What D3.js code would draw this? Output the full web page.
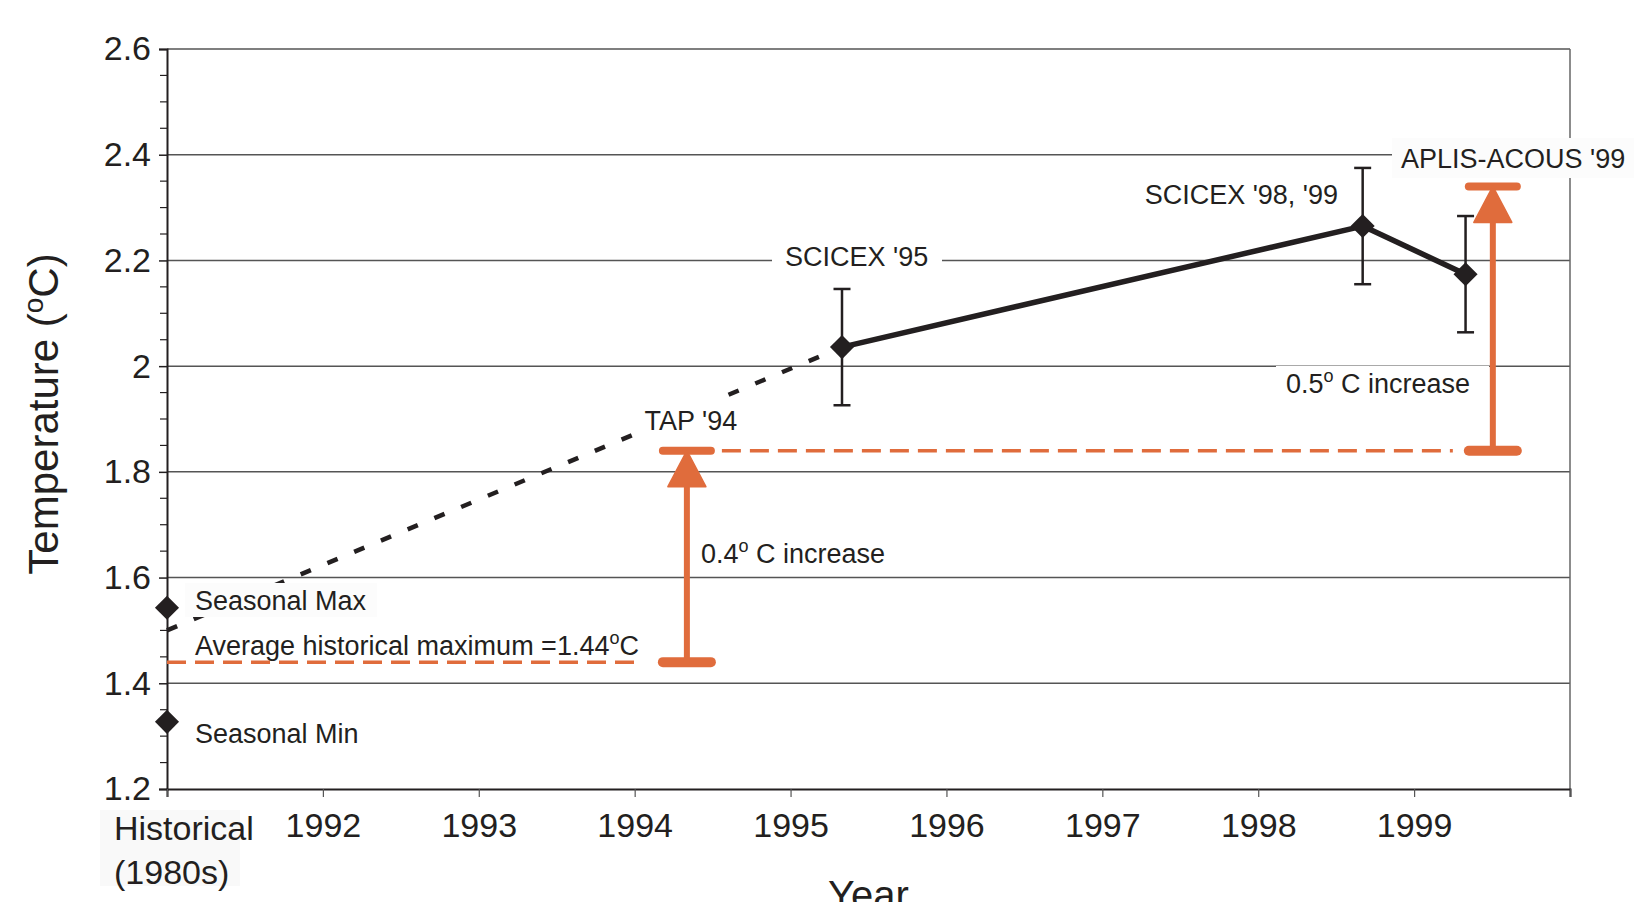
<!DOCTYPE html>
<html>
<head>
<meta charset="utf-8">
<script src="https://cdn.jsdelivr.net/npm/d3@7"></script>
<style>
  body { margin: 0; background: #fff; }
  text { font-family: "Liberation Sans", Arial, sans-serif; fill: #231f20; }
</style>
</head>
<body>
<script>
// historical (1980s) seasonal range, plotted at the "Historical" slot
const histLabels = ["Seasonal Max", "Seasonal Min"];
const histValues = [1.543, 1.327];
const histYear = 1991;

// survey means with error bars
const surveyNames = ["SCICEX '95", "SCICEX '98, '99", "APLIS-ACOUS '99"];
const surveyYears = [1995.33, 1998.67, 1999.33];
const surveyMeans = [2.036, 2.265, 2.174];
const surveyErr = [0.11, 0.11, 0.11];

// dashed trend from the historical period to the first SCICEX point
const trendStart = [1991, 1.50];

// increase markers
const histMax = 1.44;
const incYears = [1994.335, 1999.505];
const incFrom = [1.44, 1.84];
const incTo = [1.84, 2.34];
const incLabels = ["0.4", "0.5"];

const yTicks = [1.2, 1.4, 1.6, 1.8, 2, 2.2, 2.4, 2.6];
const xTicks = [1991, 1992, 1993, 1994, 1995, 1996, 1997, 1998, 1999, 2000];
const xTickLabels = ["", "1992", "1993", "1994", "1995", "1996", "1997", "1998", "1999", ""];

const width = 1634, height = 902;
const ink = "#231f20", orange = "#e06c3c";

const svg = d3.select("body").append("svg")
  .attr("width", width)
  .attr("height", height);

const x = d3.scaleLinear().domain([1991, 2000]).range([167, 1570]);
const y = d3.scaleLinear().domain([1.2, 2.6]).range([789, 49]);

// grid
svg.append("g")
  .selectAll("line")
  .data(yTicks.slice(1))
  .enter().append("line")
  .attr("x1", x(1991)).attr("x2", x(2000))
  .attr("y1", d => y(d)).attr("y2", d => y(d))
  .style("stroke", "#555")
  .style("stroke-width", 1.5);

// right border
svg.append("line")
  .attr("x1", x(2000)).attr("x2", x(2000))
  .attr("y1", y(2.6)).attr("y2", y(1.2))
  .style("stroke", "#666").style("stroke-width", 1.5);

// y axis
const yAxis = svg.append("g")
  .attr("transform", `translate(${x(1991)},0)`)
  .call(d3.axisLeft(y).tickValues(yTicks).tickSize(8).tickPadding(8)
    .tickFormat(d => d3.format("")(+d.toFixed(1))));
yAxis.select(".domain").style("stroke", ink).style("stroke-width", 2);
yAxis.selectAll(".tick line").style("stroke", ink).style("stroke-width", 1.5);
yAxis.selectAll("text").style("font-size", "34px").attr("fill", ink)
  .style("font-family", '"Liberation Sans", Arial, sans-serif');

// minor ticks every 0.05
const minor = d3.range(1.25, 2.6, 0.05).filter(v => Math.abs(v * 5 - Math.round(v * 5)) > 0.01);
svg.append("g")
  .selectAll("line")
  .data(minor)
  .enter().append("line")
  .attr("x1", x(1991) - 7).attr("x2", x(1991))
  .attr("y1", d => y(d)).attr("y2", d => y(d))
  .style("stroke", ink).style("stroke-width", 1.2);

// x axis
const xAxis = svg.append("g")
  .attr("transform", `translate(0,${y(1.2)})`)
  .call(d3.axisBottom(x).tickValues(xTicks).tickSize(8).tickPadding(16)
    .tickFormat((d, i) => xTickLabels[i]));
xAxis.select(".domain").style("stroke", ink).style("stroke-width", 2);
xAxis.selectAll(".tick line").style("stroke", "#555").style("stroke-width", 1.2);
xAxis.selectAll("text").style("font-size", "34px").attr("fill", ink)
  .style("font-family", '"Liberation Sans", Arial, sans-serif');

// dashed trend line
svg.append("line")
  .attr("x1", x(trendStart[0])).attr("y1", y(trendStart[1]))
  .attr("x2", x(surveyYears[0])).attr("y2", y(surveyMeans[0]))
  .style("stroke", ink)
  .style("stroke-width", 4.5)
  .style("stroke-dasharray", "11,18");

// label background boxes (they hide the grid / trend behind them)
const boxes = [
  { x: 100, y: 810, w: 140, h: 76, fill: "#f9f9f9" },
  { x: 185, y: 583, w: 192, h: 34, fill: "#fcfcfc" },
  { x: 637, y: 398, w: 111, h: 46, fill: "#fff" },
  { x: 772, y: 230, w: 170, h: 42, fill: "#fff" },
  { x: 1392, y: 138, w: 242, h: 40, fill: "#fcfcfc" },
  { x: 1276, y: 366, w: 213, h: 38, fill: "#fff" }
];
svg.append("g")
  .selectAll("rect")
  .data(boxes)
  .enter().append("rect")
  .attr("x", d => d.x).attr("y", d => d.y)
  .attr("width", d => d.w).attr("height", d => d.h)
  .attr("fill", d => d.fill);

// orange dashed reference lines
svg.append("line")
  .attr("x1", x(1991)).attr("x2", x(incYears[0]) - 48)
  .attr("y1", y(histMax)).attr("y2", y(histMax))
  .style("stroke", orange).style("stroke-width", 3.5)
  .style("stroke-dasharray", "19,9");
svg.append("line")
  .attr("x1", x(incYears[0]) + 35).attr("x2", x(incYears[1]) - 40)
  .attr("y1", y(incTo[0])).attr("y2", y(incTo[0]))
  .style("stroke", orange).style("stroke-width", 3.5)
  .style("stroke-dasharray", "19,9");

// increase arrows
const inc = incYears.map((yr, i) => ({ yr, from: incFrom[i], to: incTo[i] }));
const arrows = svg.append("g").selectAll("g").data(inc).enter().append("g");
arrows.append("line")
  .attr("x1", d => x(d.yr) - 24).attr("x2", d => x(d.yr) + 24)
  .attr("y1", d => y(d.from)).attr("y2", d => y(d.from))
  .style("stroke", orange).style("stroke-width", 10).style("stroke-linecap", "round");
arrows.append("line")
  .attr("x1", d => x(d.yr) - 24).attr("x2", d => x(d.yr) + 24)
  .attr("y1", d => y(d.to)).attr("y2", d => y(d.to))
  .style("stroke", orange).style("stroke-width", 8).style("stroke-linecap", "round");
arrows.append("line")
  .attr("x1", d => x(d.yr)).attr("x2", d => x(d.yr))
  .attr("y1", d => y(d.from)).attr("y2", d => y(d.to) + 30)
  .style("stroke", orange).style("stroke-width", 6);
arrows.append("path")
  .attr("d", d => {
    const cx = x(d.yr), ty = y(d.to);
    return `M${cx},${ty} L${cx + 19},${ty + 36} L${cx - 19},${ty + 36} Z`;
  })
  .attr("fill", orange)
  .attr("stroke", orange)
  .attr("stroke-linejoin", "round")
  .attr("stroke-width", 1.5);

// survey line
const pts = surveyYears.map((yr, i) => [yr, surveyMeans[i], surveyErr[i]]);
svg.append("path")
  .datum(pts)
  .attr("d", d3.line().x(d => x(d[0])).y(d => y(d[1])))
  .style("fill", "none")
  .style("stroke", ink)
  .style("stroke-width", 5.5)
  .style("stroke-linejoin", "round");

// error bars
const eb = svg.append("g").selectAll("g").data(pts).enter().append("g")
  .style("stroke", ink).style("stroke-width", 2.5);
eb.append("line")
  .attr("x1", d => x(d[0])).attr("x2", d => x(d[0]))
  .attr("y1", d => y(d[1] + d[2])).attr("y2", d => y(d[1] - d[2]));
eb.append("line")
  .attr("x1", d => x(d[0]) - 8.5).attr("x2", d => x(d[0]) + 8.5)
  .attr("y1", d => y(d[1] + d[2])).attr("y2", d => y(d[1] + d[2]));
eb.append("line")
  .attr("x1", d => x(d[0]) - 8.5).attr("x2", d => x(d[0]) + 8.5)
  .attr("y1", d => y(d[1] - d[2])).attr("y2", d => y(d[1] - d[2]));

// diamonds
const diamond = d3.symbol(d3.symbolSquare, 290);
const allPts = pts.map(d => [d[0], d[1]]).concat(histValues.map(v => [histYear, v]));
svg.append("g")
  .selectAll("path")
  .data(allPts)
  .enter().append("path")
  .attr("d", diamond)
  .attr("transform", d => `translate(${x(d[0])},${y(d[1])}) rotate(45)`)
  .attr("fill", ink);

// text
const t = svg.append("g").style("font-size", "27px");
const hx = x(histYear);
t.append("text").attr("x", hx + 28).attr("y", y(histValues[0]) + 2).text(histLabels[0]);
t.append("text").attr("x", hx + 28).attr("y", y(histValues[1]) + 21).text(histLabels[1]);

const avg = t.append("text").attr("x", hx + 28).attr("y", y(histMax) - 7);
avg.append("tspan").text("Average historical maximum =" + histMax);
avg.append("tspan").attr("dy", -11).style("font-size", "18px").text("o");
avg.append("tspan").attr("dy", 11).text("C");

t.append("text").attr("x", x(incYears[0]) + 4).attr("y", y(incTo[0]) - 21)
  .attr("text-anchor", "middle").text("TAP '94");

function incLabel(xp, yp, val) {
  const lab = t.append("text").attr("x", xp).attr("y", yp);
  lab.append("tspan").text(val);
  lab.append("tspan").attr("dy", -11).style("font-size", "18px").text("o");
  lab.append("tspan").attr("dy", 11).text(" C increase");
}
incLabel(x(incYears[0]) + 14, 563, incLabels[0]);
incLabel(1286, 393, incLabels[1]);

t.append("text").attr("x", x(surveyYears[0]) - 57).attr("y", 266).text(surveyNames[0]);
t.append("text").attr("x", x(surveyYears[1]) - 218).attr("y", 204).text(surveyNames[1]);
t.append("text").attr("x", 1401).attr("y", 168).text(surveyNames[2]);

// Historical (1980s) x label
const hist = svg.append("text").attr("x", 114).attr("y", 840).style("font-size", "34px");
hist.append("tspan").text("Historical");
hist.append("tspan").attr("x", 114).attr("dy", 44).text("(1980s)");

// axis titles
svg.append("text")
  .attr("x", (x(1991) + x(2000)) / 2)
  .attr("y", 909)
  .attr("text-anchor", "middle")
  .style("font-size", "40px")
  .text("Year");

const yt = svg.append("text")
  .attr("transform", "translate(58,414) rotate(-90)")
  .attr("text-anchor", "middle")
  .style("font-size", "42px");
yt.append("tspan").text("Temperature (");
yt.append("tspan").attr("dy", -15).style("font-size", "28px").text("o");
yt.append("tspan").attr("dy", 15).text("C)");
</script>
</body>
</html>
